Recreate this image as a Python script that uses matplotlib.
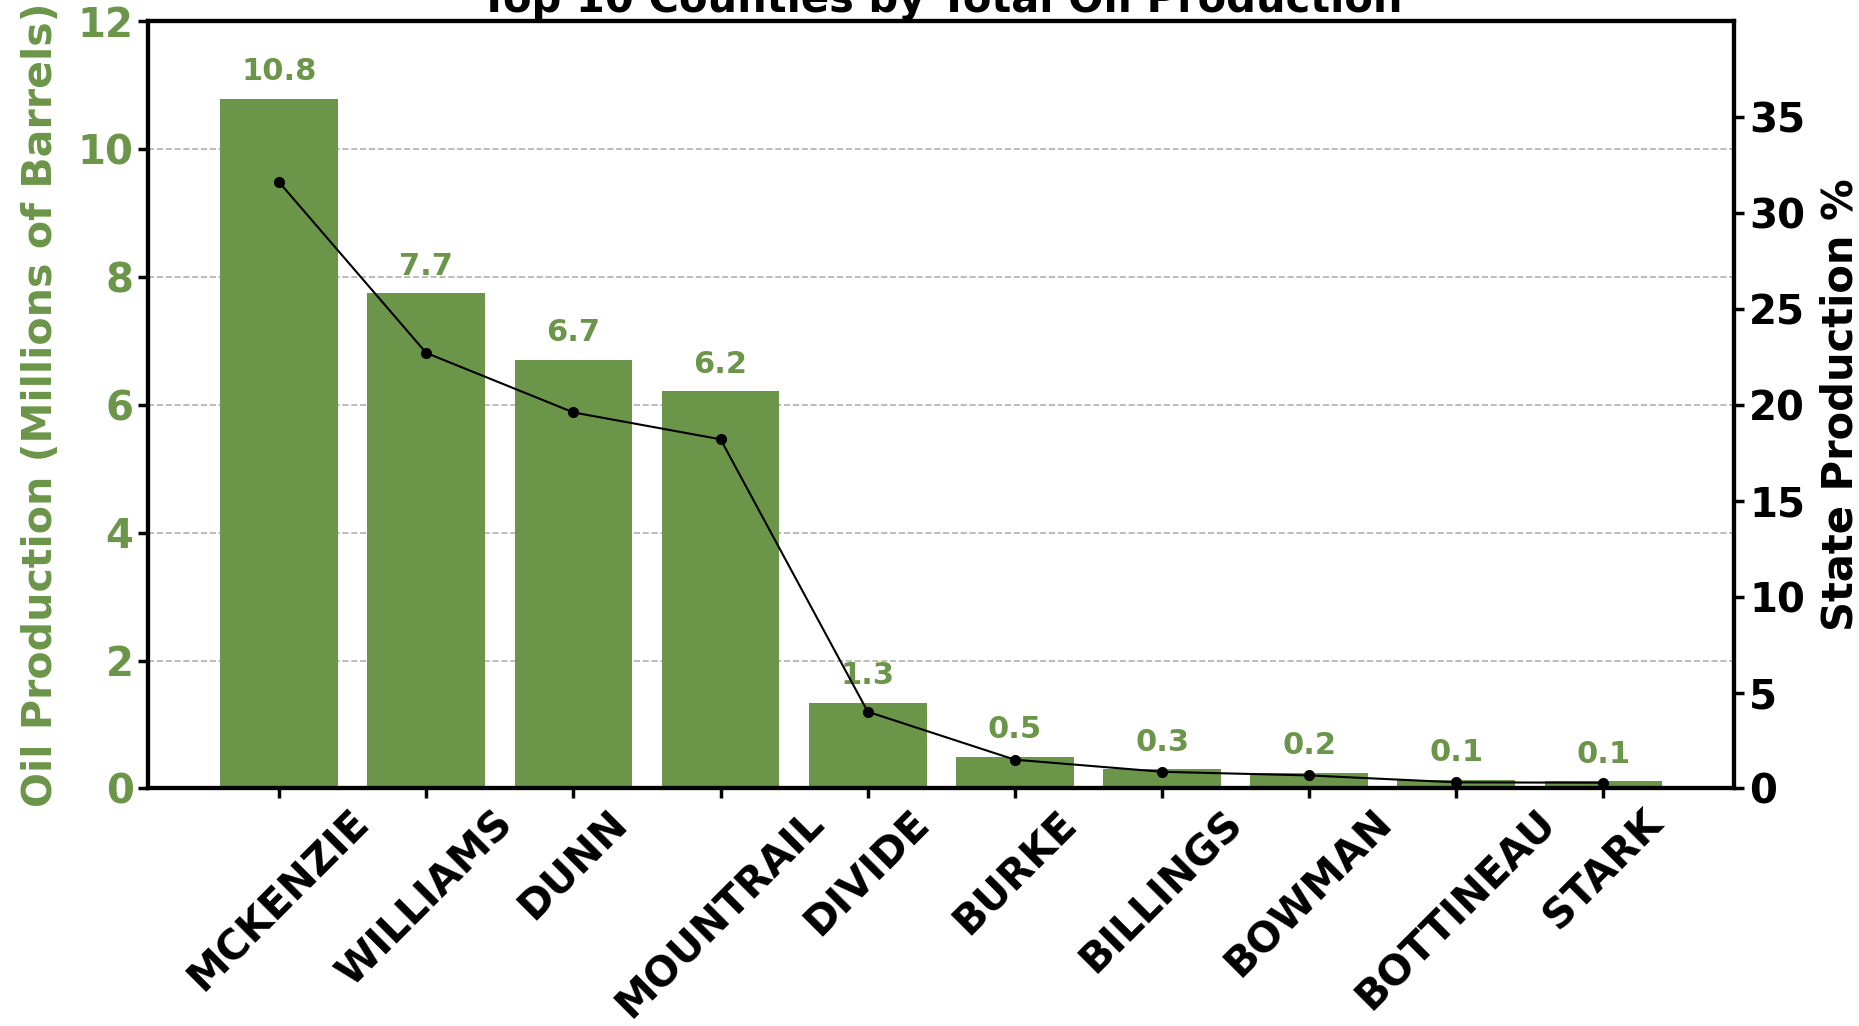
import numpy as np
import matplotlib
matplotlib.use("Agg")
import matplotlib.pyplot as plt

# data
counties = ["MCKENZIE", "WILLIAMS", "DUNN", "MOUNTRAIL", "DIVIDE",
            "BURKE", "BILLINGS", "BOWMAN", "BOTTINEAU", "STARK"]
oil_millions = [10.78, 7.74, 6.70, 6.21, 1.34, 0.50, 0.30, 0.24, 0.13, 0.11]
state_pct = [31.6, 22.7, 19.6, 18.2, 4.0, 1.5, 0.87, 0.68, 0.32, 0.30]

GREEN = '#6b9548'

plt.rcParams['font.family'] = 'DejaVu Sans'
plt.rcParams['font.weight'] = 'bold'

fig = plt.figure(figsize=(18.59, 10.26), dpi=100)
ax = fig.add_axes([0.0797, 0.2315, 0.8533, 0.748])

x = np.arange(len(counties))
ax.bar(x, oil_millions, width=0.8, color=GREEN, zorder=2)
ax.set_axisbelow(True)
ax.yaxis.grid(True, linestyle='--', color='#b0b0b0', linewidth=1.2)

# value labels above bars
for xi, v in zip(x, oil_millions):
    ax.text(xi, v + 0.2, f"{v:.1f}", ha='center', va='bottom',
            color=GREEN, fontsize=22, fontweight='bold')

ax.set_ylim(0, 12)
ax.set_yticks(np.arange(0, 13, 2))
ax.set_xticks(x)
ax.set_xticklabels(counties, rotation=45, ha='center', fontsize=29.5,
                   fontweight='bold')
ax.tick_params(axis='y', labelcolor=GREEN, labelsize=29, width=2.5, length=7)
ax.tick_params(axis='x', width=2.5, length=7)
ax.set_ylabel("Oil Production (Millions of Barrels)", color=GREEN,
              fontsize=29.6, fontweight='bold', labelpad=12)
ax.set_title("Top 10 Counties by Total Oil Production", fontsize=30,
             fontweight='bold')

# state share on the twin axis
ax2 = ax.twinx()
ax2.plot(x, state_pct, color='black', marker='o', markersize=7,
         linewidth=1.5, zorder=3)
ax2.set_ylim(0, 40)
ax2.set_yticks(np.arange(0, 36, 5))
ax2.tick_params(axis='y', labelsize=29, width=2.5, length=7)
ax2.set_ylabel("State Production %", fontsize=30, fontweight='bold',
               labelpad=10)

for a in (ax, ax2):
    for s in a.spines.values():
        s.set_linewidth(3)

fig.savefig("out.png", dpi=100)
